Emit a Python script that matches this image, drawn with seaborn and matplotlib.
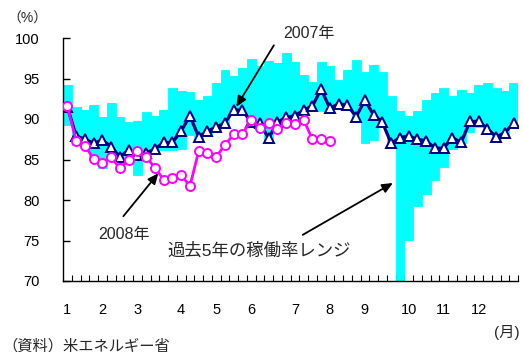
import numpy as np
import pandas as pd
import matplotlib
matplotlib.use("Agg")
import matplotlib.pyplot as plt
import seaborn as sns

# Weekly refinery utilisation (%), 52 weeks per year
weeks = list(range(52))
month_labels = ["1", "2", "3", "4", "5", "6", "7", "8", "9", "10", "11", "12"]
month_start_weeks = [0, 4, 8, 13, 17, 21, 26, 30, 34, 39, 43, 47]

# Past 5-year range (high / low) per week
range_high = [94.2, 91.5, 91.1, 91.7, 90.2, 92.0, 90.2, 89.6, 89.8, 90.9,
              90.4, 91.1, 93.8, 93.5, 93.3, 92.3, 92.8, 94.4, 96.1, 95.3,
              96.3, 97.4, 96.5, 97.1, 96.9, 98.1, 97.0, 95.4, 94.6, 97.0,
              96.5, 94.8, 96.0, 97.3, 95.8, 96.7, 95.8, 92.8, 91.0, 90.4,
              91.0, 92.3, 93.2, 93.8, 92.8, 93.6, 93.2, 94.2, 94.4, 93.8,
              93.5, 94.4]
range_low = [89.3, 86.8, 86.4, 84.9, 83.9, 84.9, 84.0, 84.5, 83.1, 84.9,
             86.0, 86.2, 86.2, 86.3, 88.0, 87.5, 88.2, 88.7, 89.2, 90.8,
             90.8, 89.3, 89.2, 87.2, 89.3, 89.9, 90.1, 90.8, 91.3, 91.0,
             90.9, 91.6, 91.4, 90.0, 87.0, 87.4, 89.3, 86.6, 70.0, 75.1,
             79.3, 80.8, 82.5, 84.1, 86.3, 87.0, 88.4, 89.0, 88.5, 87.5,
             88.0, 89.2]

util_2007 = [91.5, 87.9, 87.5, 87.0, 87.4, 86.6, 85.3, 86.2, 85.6, 85.8,
             86.3, 87.1, 87.1, 88.5, 90.4, 87.8, 88.5, 89.0, 89.5, 91.1,
             91.1, 89.6, 89.5, 87.6, 89.6, 90.2, 90.4, 91.1, 91.6, 93.7,
             91.3, 91.9, 91.7, 90.3, 92.3, 90.5, 89.6, 87.0, 87.7, 87.9,
             87.5, 87.3, 86.4, 86.4, 87.7, 87.1, 89.7, 89.7, 88.8, 87.8,
             88.3, 89.5]

util_2008 = [91.6, 87.3, 86.7, 85.1, 84.6, 85.3, 83.9, 85.0, 86.0, 85.3,
             84.0, 82.5, 82.7, 83.1, 81.7, 86.0, 85.8, 85.3, 86.8, 88.1,
             88.1, 89.9, 88.9, 89.5, 88.8, 89.5, 89.4, 89.9, 87.5, 87.5,
             87.3]

sns.set_theme(style="white")
plt.rcParams["font.family"] = ["Liberation Sans", "Noto Sans CJK JP"]
plt.rcParams["axes.edgecolor"] = "black"

W, H = 523, 352
fig = plt.figure(figsize=(W / 100, H / 100), dpi=100)
ax = fig.add_axes([63 / W, 71 / H, 455 / W, 243 / H])

# Floating bars for the 5-year range
df_range = pd.DataFrame({
    "week": weeks,
    "span": np.array(range_high) - np.array(range_low),
})
sns.barplot(data=df_range, x="week", y="span", bottom=range_low,
            width=1.0, color="#00FFFF", saturation=1, linewidth=0.6,
            edgecolor="#00FFFF", errorbar=None, ax=ax, zorder=1)

# 2007 and 2008 weekly lines
sns.lineplot(x=weeks, y=util_2007, ax=ax, color="#000080", linewidth=2.3,
             marker="^", markersize=7.5, markerfacecolor="white",
             markeredgecolor="#000080", markeredgewidth=1.4, zorder=3)
sns.lineplot(x=weeks[:len(util_2008)], y=util_2008, ax=ax, color="#FF00FF",
             linewidth=2.0, marker="o", markersize=6.5, markerfacecolor="white",
             markeredgecolor="#FF00FF", markeredgewidth=1.4, zorder=4)

ax.set_xlim(-0.5, 51.5)
ax.set_ylim(70, 100)
ax.set_yticks(range(70, 101, 5))
ax.set_xticks(month_start_weeks, labels=month_labels)
ax.set_xticks(np.arange(0.5, 52, 1), minor=True)
ax.set_xlabel("")
ax.set_ylabel("")
ax.tick_params(axis="x", which="major", length=0, pad=16, labelsize=10.5,
               colors="black")
ax.tick_params(axis="x", which="minor", bottom=True, direction="in",
               length=4, width=0.8, color="black")
ax.tick_params(axis="y", left=True, direction="in", length=5, width=1,
               pad=17, labelsize=10.5, colors="black")
sns.despine(ax=ax)
for side in ("left", "bottom"):
    ax.spines[side].set_linewidth(1.0)
    ax.spines[side].set_color("black")

arrow = dict(arrowstyle="-|>,head_length=0.45,head_width=0.2",
             color="black", lw=1.3, mutation_scale=14, shrinkA=0, shrinkB=0)

ax.text(27.6, 100.6, "2007年", ha="center", va="center", fontsize=11.5,
        clip_on=False)
ax.annotate("", xy=(19.3, 91.5), xytext=(23.6, 99.1), arrowprops=arrow,
            annotation_clip=False)

ax.text(6.44, 75.8, "2008年", ha="center", va="center", fontsize=11.5)
ax.annotate("", xy=(10.4, 83.3), xytext=(6.4, 78.0), arrowprops=arrow)

ax.text(11.4, 73.8, "過去5年の稼働率レンジ", ha="left", va="center",
        fontsize=12.5)
ax.annotate("", xy=(37.2, 82.1), xytext=(26.9, 75.7), arrowprops=arrow)

fig.text(27 / W, 1 - 19 / H, "（%）", ha="center", va="center", fontsize=10)
fig.text(520 / W, 1 - 333 / H, "(月)", ha="right", va="center", fontsize=11)
fig.text(2 / W, 1 - 346 / H, "（資料）米エネルギー省", ha="left", va="center",
         fontsize=11)

fig.savefig("out.png", dpi=100)
